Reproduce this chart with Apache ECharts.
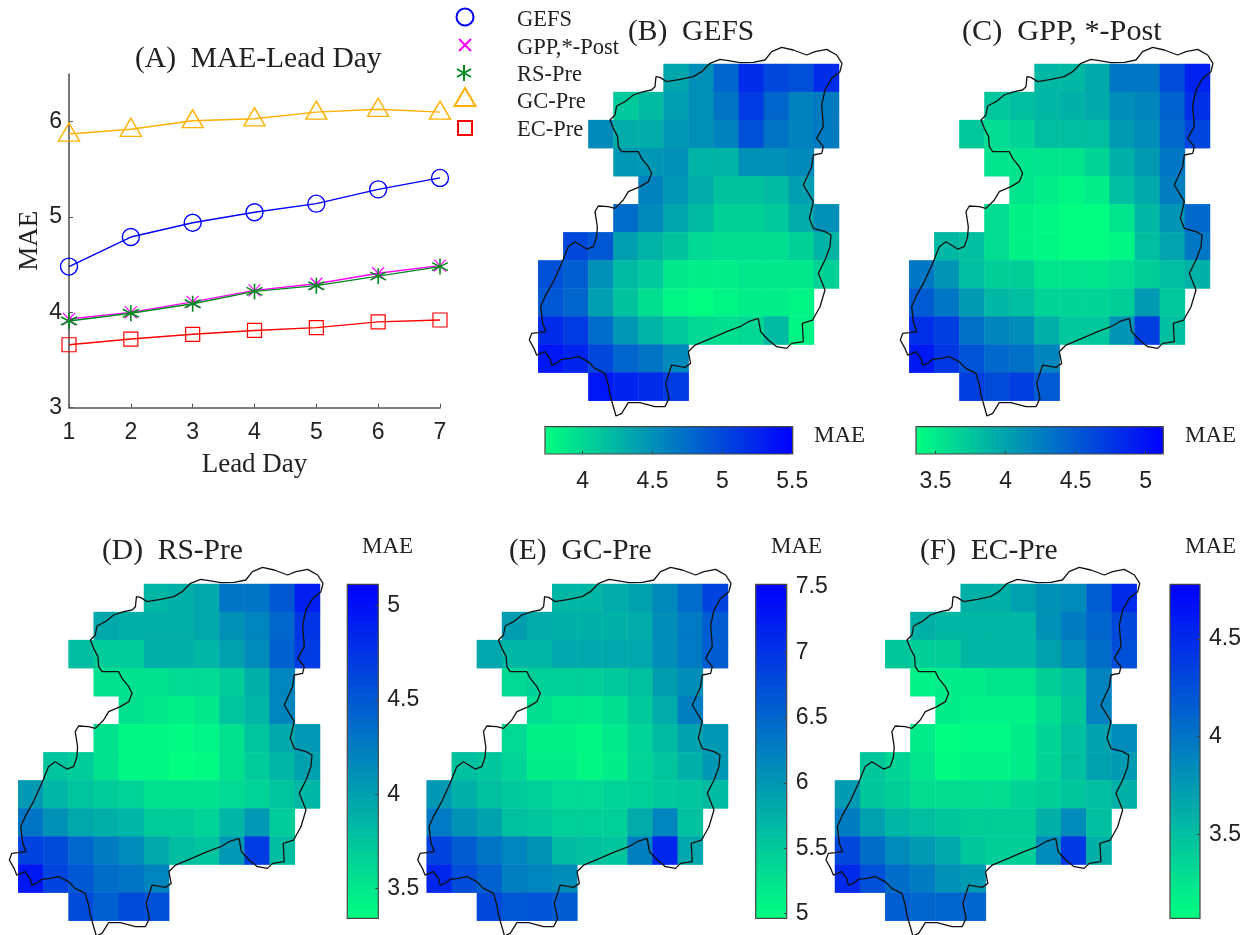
<!DOCTYPE html>
<html><head><meta charset="utf-8">
<style>html,body{margin:0;padding:0;background:#fff}#c{width:1252px;height:935px}</style>
<script src="https://cdn.jsdelivr.net/npm/echarts@6/dist/echarts.min.js"></script>
</head><body><div id="c"></div>
<script>
const _ = null;
const leadDays = [1,2,3,4,5,6,7];
const maeTicks = [3,4,5,6];
const gefsLine = [4.48,4.79,4.94,5.05,5.14,5.29,5.41];
const gppLine  = [3.93,4.00,4.11,4.23,4.30,4.41,4.49];
const rsLine   = [3.91,3.99,4.09,4.22,4.28,4.38,4.48];
const gcLine   = [5.87,5.92,6.01,6.03,6.10,6.13,6.10];
const ecLine   = [3.66,3.72,3.77,3.81,3.84,3.90,3.92];

const gefsMap = [
[_,_,_,_,_,4.35,4.5,4.8,5.2,5.0,4.95,5.2],
[_,_,_,4.1,4.2,4.4,4.5,4.7,5.1,4.8,4.6,4.65],
[_,_,4.55,4.3,4.3,4.45,4.5,4.6,4.95,4.7,4.6,4.65],
[_,_,_,4.45,4.45,4.5,4.25,4.25,4.5,4.5,4.55],
[_,_,_,_,4.6,4.45,4.3,4.15,4.15,4.2,4.4],
[_,_,_,4.75,4.55,4.35,4.2,4.05,4.05,4.1,4.3,4.5],
[_,5.0,4.9,4.4,4.25,4.15,4.0,3.95,3.95,3.95,4.05,4.25],
[4.95,4.85,4.5,4.2,4.1,3.9,3.85,3.85,3.9,3.9,3.9,4.05],
[4.9,4.8,4.4,4.15,3.95,3.8,3.75,3.8,3.85,3.85,3.8],
[5.2,5.1,4.75,4.45,4.25,4.1,4.0,3.95,4.0,4.2,3.8],
[5.35,5.25,5.0,4.8,4.7,4.55],
[_,_,5.35,5.25,5.2,5.1]
];
const gppMap = [
[_,_,_,_,_,3.85,3.85,3.95,4.3,4.3,4.6,4.9],
[_,_,_,3.75,3.8,3.85,3.9,3.95,4.15,4.2,4.45,4.8],
[_,_,3.75,3.6,3.65,3.8,3.8,3.8,4.05,4.15,4.4,4.65],
[_,_,_,3.55,3.55,3.55,3.55,3.65,3.9,4.05,4.3],
[_,_,_,_,3.55,3.48,3.42,3.48,3.8,3.95,4.25],
[_,_,_,3.6,3.45,3.42,3.38,3.38,3.55,3.85,4.1,4.4],
[_,3.85,3.8,3.6,3.45,3.42,3.38,3.38,3.42,3.8,4.0,4.3],
[4.3,4.1,3.8,3.7,3.7,3.55,3.55,3.55,3.6,3.7,3.8,3.9],
[4.5,4.3,4.05,3.85,3.8,3.65,3.65,3.65,3.7,4.05,3.75],
[4.8,4.7,4.35,4.2,4.15,3.9,3.75,3.75,4.1,4.7,3.8],
[4.95,4.75,4.55,4.4,4.35,4.2],
[_,_,4.7,4.6,4.7,4.5]
];
const rsMap = [
[_,_,_,_,_,3.85,3.9,3.95,4.3,4.3,4.5,4.9],
[_,_,_,3.95,3.9,3.9,3.9,3.95,4.1,4.2,4.4,4.75],
[_,_,3.8,3.7,3.7,3.9,3.9,3.85,4.0,4.15,4.45,4.7],
[_,_,_,3.55,3.55,3.55,3.6,3.6,3.7,3.9,4.2],
[_,_,_,_,3.55,3.5,3.45,3.5,3.75,3.85,4.2],
[_,_,_,3.55,3.4,3.4,3.38,3.42,3.55,3.75,3.95,4.05],
[_,3.75,3.7,3.55,3.4,3.4,3.35,3.38,3.55,3.7,3.85,4.0],
[4.05,3.85,3.75,3.7,3.65,3.55,3.55,3.55,3.6,3.65,3.75,3.85],
[4.3,4.1,3.95,3.9,3.85,3.7,3.7,3.65,3.85,4.05,3.7],
[4.65,4.6,4.4,4.25,4.15,3.95,3.8,3.75,4.05,4.7,3.8],
[4.95,4.65,4.5,4.35,4.3,4.2],
[_,_,4.6,4.45,4.6,4.55]
];
const gcMap = [
[_,_,_,_,_,5.7,5.7,5.8,5.9,6.15,6.45,6.85],
[_,_,_,5.95,5.8,5.75,5.75,5.75,5.8,6.1,6.3,6.6],
[_,_,5.85,5.7,5.7,5.85,5.85,5.85,5.85,6.1,6.3,6.6],
[_,_,_,5.35,5.45,5.45,5.45,5.5,5.6,5.95,6.1],
[_,_,_,_,5.3,5.2,5.2,5.3,5.5,5.8,6.25],
[_,_,_,5.35,5.1,5.1,5.05,5.2,5.4,5.65,5.9,6.0],
[_,5.6,5.55,5.4,5.15,5.15,5.05,5.15,5.4,5.55,5.75,6.0],
[6.0,5.75,5.6,5.5,5.45,5.35,5.35,5.4,5.45,5.5,5.55,5.65],
[6.3,6.05,5.9,5.6,5.55,5.45,5.45,5.45,5.8,6.2,5.6],
[6.85,6.6,6.35,6.2,6.05,5.65,5.6,5.55,6.25,7.15,5.85],
[7.15,6.75,6.55,6.25,6.2,6.1],
[_,_,6.8,6.65,6.7,6.6]
];
const ecMap = [
[_,_,_,_,_,3.6,3.6,3.7,3.8,3.85,4.15,4.5],
[_,_,_,3.6,3.55,3.55,3.55,3.55,3.8,3.95,4.1,4.3],
[_,_,3.45,3.4,3.4,3.55,3.55,3.55,3.7,3.85,4.05,4.25],
[_,_,_,3.15,3.2,3.2,3.25,3.25,3.4,3.5,3.9],
[_,_,_,_,3.2,3.15,3.15,3.15,3.3,3.45,3.9],
[_,_,_,3.2,3.07,3.12,3.12,3.2,3.35,3.5,3.7,3.85],
[_,3.45,3.35,3.25,3.1,3.15,3.15,3.2,3.35,3.5,3.7,3.75],
[3.75,3.45,3.4,3.3,3.3,3.3,3.3,3.35,3.4,3.45,3.5,3.6],
[3.95,3.7,3.55,3.5,3.45,3.4,3.4,3.4,3.6,3.85,3.5],
[4.3,4.05,3.85,3.75,3.65,3.45,3.4,3.4,3.85,4.4,3.6],
[4.5,4.25,4.05,3.95,3.8,3.75],
[_,_,4.15,4.1,4.1,4.1]
];
const regionOutline = [[960,125],[966,100],[950,75],[920,58],[885,65],[860,75],[820,60],[785,52],[755,65],[735,90],[700,97],[660,98],[625,92],[600,88],[570,100],[545,125],[520,140],[480,148],[440,155],[420,142],[408,140],[405,170],[395,180],[370,185],[340,195],[315,215],[290,228],[285,255],[270,270],[280,295],[293,320],[295,350],[305,365],[355,365],[365,385],[385,410],[395,430],[385,455],[360,470],[325,485],[310,510],[285,535],[265,530],[235,528],[225,545],[232,590],[230,620],[220,650],[200,657],[165,635],[145,650],[125,700],[100,755],[75,800],[62,830],[68,880],[78,905],[55,908],[35,910],[28,930],[42,955],[50,975],[75,965],[90,985],[95,1005],[110,1000],[125,988],[150,985],[175,980],[205,995],[225,1015],[255,1030],[265,1065],[270,1095],[283,1140],[288,1158],[305,1150],[325,1118],[360,1118],[405,1130],[435,1130],[447,1105],[437,1060],[455,1005],[495,1012],[512,1000],[505,965],[525,945],[580,922],[620,905],[660,890],[685,875],[715,865],[722,905],[745,930],[770,950],[800,955],[815,940],[850,935],[847,880],[878,870],[900,830],[915,780],[895,730],[915,690],[930,650],[933,615],[915,605],[880,595],[868,565],[880,515],[850,465],[875,410],[880,375],[905,370],[910,350],[890,325],[910,290],[905,225],[915,180],[935,145],[960,125]];
// outline units; cell block spans x 55..957 and y 102..1112, axis padded so nothing is clipped
const cellExtent = {xMin:55,xMax:957,yMin:102,yMax:1112};
const outlineExtent = {xMin:0,xMax:1000,yMin:0,yMax:1150};

const serif = '"Liberation Serif","Times New Roman",serif';
const sans = '"Liberation Sans",Arial,sans-serif';
const ink = '#222';
const COLS = Array.from({length:12},(_v,i)=>i);
const star = 'path://M8 0V16M1 4L15 12M1 12L15 4';
const cross = 'path://M1 1L15 15M1 15L15 1';

const panels = [
 {map:gefsMap,name:'(B)  GEFS',fs:29.5,title:[628,31],rect:[538.3,64,300.7,336.7],min:3.73,max:5.503,ticks:[4,4.5,5,5.5],horizontal:true,bar:[545,426.7,247.7,27.3],mae:[814,436]},
 {map:gppMap,name:'(C)  GPP, *-Post',fs:30.2,title:[962,31],rect:[909.3,64,300.7,336.7],min:3.36,max:5.126,ticks:[3.5,4,4.5,5],horizontal:true,bar:[916,426.7,247.3,27.3],mae:[1185,436]},
 {map:rsMap,name:'(D)  RS-Pre',fs:29.5,title:[102,550],rect:[18.3,584,301.7,336.7],min:3.343,max:5.113,ticks:[3.5,4,4.5,5],horizontal:false,bar:[347.3,584.3,31,334],mae:[362,547]},
 {map:gcMap,name:'(E)  GC-Pre',fs:29.5,title:[509,550],rect:[426.7,584,301.3,336.7],min:4.965,max:7.52,ticks:[5,5.5,6,6.5,7,7.5],horizontal:false,bar:[755.7,584.3,31,334],mae:[771,547]},
 {map:ecMap,name:'(F)  EC-Pre',fs:29.5,title:[920,550],rect:[835,584,301.7,336.7],min:3.07,max:4.78,ticks:[3.5,4,4.5],horizontal:false,bar:[1170,584.3,30,334],mae:[1185,547]}
];

const grid=[],xAxis=[],yAxis=[],series=[],visualMap=[],title=[],legend=[];
const box=r=>({left:r[0],top:r[1],width:r[2],height:r[3],containLabel:false});

// Panel A
grid.push(box([69,74,371,333.7]));
xAxis.push({type:'value',gridIndex:0,min:1,max:7,name:'Lead Day',nameLocation:'middle',nameGap:44,
  nameTextStyle:{fontFamily:serif,fontSize:27,color:ink},
  axisLine:{onZero:false,lineStyle:{color:'#555',width:1.6}},
  axisTick:{inside:true,length:4,customValues:leadDays,lineStyle:{color:'#555'}},
  axisLabel:{customValues:leadDays,fontFamily:sans,fontSize:23,color:ink,margin:13},splitLine:{show:false}});
yAxis.push({type:'value',gridIndex:0,min:3,max:6.5,name:'MAE',nameLocation:'middle',nameGap:26,
  nameTextStyle:{fontFamily:serif,fontSize:27,color:ink},
  axisLine:{show:true,onZero:false,lineStyle:{color:'#555',width:1.6}},
  axisTick:{inside:true,length:4,customValues:maeTicks,lineStyle:{color:'#555'}},
  axisLabel:{customValues:maeTicks,fontFamily:sans,fontSize:23,color:ink,margin:7,padding:[5,0,0,0]},splitLine:{show:false}});
title.push({text:'(A)  MAE-Lead Day',left:135,top:44,padding:0,textStyle:{fontFamily:serif,fontSize:29.5,fontWeight:'normal',color:ink}});

const lines=[
 {name:'GEFS',data:gefsLine,color:'#0000ff',symbol:'circle',size:17,lw:1.4,mark:16,text:19},
 {name:'GPP,*-Post',data:gppLine,color:'#ff00ff',symbol:cross,size:12,lw:1.2,mark:44,text:47},
 {name:'RS-Pre',data:rsLine,color:'#008a1e',symbol:star,size:16,lw:1.6,mark:72,text:74},
 {name:'GC-Pre',data:gcLine,color:'#ffb000',symbol:'triangle',size:[21,18],lw:1.4,off:[0,-2],mark:96,text:101},
 {name:'EC-Pre',data:ecLine,color:'#ff0000',symbol:'rect',size:14,lw:1.2,mark:127,text:129}
];
lines.forEach((l,i)=>{
  series.push({type:'line',name:l.name,xAxisIndex:0,yAxisIndex:0,data:leadDays.map((d,k)=>[d,l.data[k]]),
    symbol:l.symbol,symbolSize:l.size,symbolOffset:l.off||[0,0],clip:false,showSymbol:true,
    lineStyle:{color:l.color,width:1.4},
    itemStyle:{color:'transparent',borderColor:l.color,borderWidth:l.lw},
    emphasis:{disabled:true},animation:false});
  const w=Array.isArray(l.size)?l.size[0]:l.size, h=Array.isArray(l.size)?l.size[1]:l.size;
  legend.push({show:true,data:[{name:l.name,icon:l.symbol}],selectedMode:false,orient:'horizontal',
    left:464-w/2,top:l.mark-h/2,padding:0,itemWidth:w,itemHeight:h,itemGap:0,formatter:()=>'',
    lineStyle:{width:0,opacity:0}});
  title.push({text:l.name,left:517,top:l.text-10,padding:0,textStyle:{fontFamily:serif,fontSize:22.5,fontWeight:'normal',color:ink}});
});
// Panels B..F
panels.forEach((p,i)=>{
  const hg=grid.length; grid.push(box(p.rect));
  xAxis.push({type:'category',gridIndex:hg,data:COLS,show:false});
  yAxis.push({type:'category',gridIndex:hg,data:COLS,inverse:true,show:false});
  const d=[];
  p.map.forEach((row,r)=>row.forEach((v,c)=>{if(v!==null)d.push([c,r,v]);}));
  const si=series.length;
  series.push({type:'heatmap',xAxisIndex:hg,yAxisIndex:hg,data:d,itemStyle:{borderWidth:0},emphasis:{disabled:true},animation:false,progressive:0});
  visualMap.push({type:'continuous',seriesIndex:si,min:p.min,max:p.max,calculable:false,hoverLink:false,realtime:false,
    orient:p.horizontal?'horizontal':'vertical',left:p.bar[0],top:p.bar[1],padding:0,
    itemWidth:p.horizontal?p.bar[3]:p.bar[2],itemHeight:p.horizontal?p.bar[2]:p.bar[3],
    text:null,showLabel:false,inRange:{color:['#00ff80','#0000ff']},z:1});
  // outline overlay, on padded axes aligned with the cell block
  const sx=p.rect[2]/(cellExtent.xMax-cellExtent.xMin), sy=p.rect[3]/(cellExtent.yMax-cellExtent.yMin);
  const og=grid.length;
  grid.push(Object.assign(box([p.rect[0]-(cellExtent.xMin-outlineExtent.xMin)*sx,p.rect[1]-(cellExtent.yMin-outlineExtent.yMin)*sy,(outlineExtent.xMax-outlineExtent.xMin)*sx,(outlineExtent.yMax-outlineExtent.yMin)*sy]),{z:5}));
  xAxis.push({type:'value',gridIndex:og,min:outlineExtent.xMin,max:outlineExtent.xMax,show:false});
  yAxis.push({type:'value',gridIndex:og,min:outlineExtent.yMin,max:outlineExtent.yMax,inverse:true,show:false});
  series.push({type:'line',xAxisIndex:og,yAxisIndex:og,data:regionOutline,symbol:'none',clip:false,z:6,
    lineStyle:{color:'#111',width:1.3},emphasis:{disabled:true},animation:false});
  // colourbar axes
  const cg=grid.length;
  grid.push(Object.assign(box(p.bar),{show:true,backgroundColor:'transparent',borderColor:'#444',borderWidth:1.2,z:8}));
  const tickAxis={type:'value',gridIndex:cg,min:p.min,max:p.max,z:8,
     axisLine:{show:false,onZero:false},splitLine:{show:false},
     axisTick:{show:true,inside:true,length:3,customValues:p.ticks,lineStyle:{color:'#444'}},
     axisLabel:{show:true,customValues:p.ticks,fontFamily:sans,fontSize:23,color:ink,margin:p.horizontal?16:9,padding:p.horizontal?0:[5,0,0,0]}};
  const blank={type:'value',gridIndex:cg,min:0,max:1,show:false};
  if(p.horizontal){xAxis.push(Object.assign(tickAxis,{position:'bottom'}));yAxis.push(blank);}
  else{yAxis.push(Object.assign(tickAxis,{position:'right'}));xAxis.push(blank);}
  title.push({text:p.name,left:p.title[0],top:p.title[1]-14,padding:0,textStyle:{fontFamily:serif,fontSize:p.fs,fontWeight:'normal',color:ink}});
  title.push({text:'MAE',left:p.mae[0],top:p.mae[1]-12,padding:0,textStyle:{fontFamily:serif,fontSize:23,fontWeight:'normal',color:ink}});
});
const chart=echarts.init(document.getElementById('c'),null,{renderer:'canvas'});
chart.setOption({backgroundColor:'#fff',animation:false,tooltip:{show:false},title,legend,grid,xAxis,yAxis,visualMap,series});
</script></body></html>
